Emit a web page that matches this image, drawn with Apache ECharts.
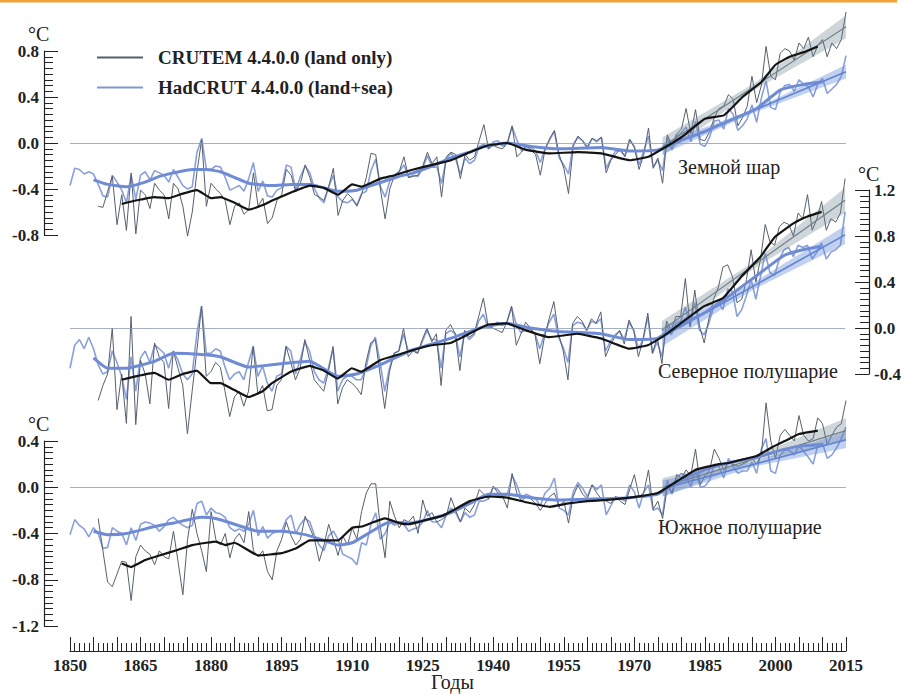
<!DOCTYPE html>
<html><head><meta charset="utf-8">
<script src="https://cdn.jsdelivr.net/npm/echarts@6/dist/echarts.min.js"></script>
<style>html,body{margin:0;padding:0;background:#fff}#c{width:904px;height:695px}</style>
</head><body><div id="c"></div>
<script>
// ---------- data (anomalies, °C) ----------
const hadStart = 1850;   // HadCRUT annual series start year
const cruStart = 1856;   // CRUTEM annual series start year

// Global (Земной шар)
const hadG = [
 -0.37,-0.22,-0.23,-0.27,-0.25,-0.27,-0.36,-0.46,-0.47,-0.28,
 -0.34,-0.41,-0.52,-0.28,-0.49,-0.28,-0.25,-0.32,-0.24,-0.26,
 -0.28,-0.34,-0.23,-0.30,-0.37,-0.40,-0.38,-0.08,0.04,-0.23,
 -0.23,-0.20,-0.21,-0.30,-0.41,-0.39,-0.37,-0.42,-0.31,-0.17,
 -0.42,-0.33,-0.46,-0.47,-0.41,-0.39,-0.19,-0.21,-0.41,-0.29,
 -0.20,-0.26,-0.40,-0.48,-0.52,-0.38,-0.28,-0.47,-0.51,-0.52,
 -0.49,-0.54,-0.44,-0.42,-0.24,-0.14,-0.38,-0.47,-0.33,-0.28,
 -0.25,-0.19,-0.30,-0.28,-0.29,-0.22,-0.11,-0.21,-0.21,-0.35,
 -0.14,-0.09,-0.14,-0.27,-0.13,-0.18,-0.15,-0.03,-0.01,-0.05,
 0.01,0.02,-0.03,0.00,0.14,0.03,-0.07,-0.04,-0.04,-0.07,
 -0.17,-0.05,0.03,0.10,-0.13,-0.19,-0.27,-0.01,0.05,0.02,
 -0.05,0.04,0.01,0.05,-0.22,-0.14,-0.07,-0.07,-0.11,0.03,
 -0.03,-0.19,-0.07,0.06,-0.21,-0.15,-0.24,0.05,-0.06,0.06,
 0.09,0.14,0.01,0.19,-0.01,-0.03,0.05,0.19,0.20,0.12,
 0.30,0.25,0.11,0.15,0.21,0.33,0.18,0.39,0.54,0.31,
 0.29,0.44,0.50,0.51,0.45,0.55,0.51,0.49,0.40,0.51,
 0.56,0.43,0.47,0.51,0.58,0.76
];
const cruG = [
 -0.55,-0.56,-0.42,-0.29,
 -0.71,-0.45,-0.76,-0.26,-0.79,-0.41,-0.45,-0.57,-0.35,-0.41,
 -0.45,-0.66,-0.35,-0.40,-0.55,-0.81,-0.60,-0.25,0.03,-0.55,
 -0.35,-0.40,-0.44,-0.50,-0.71,-0.55,-0.52,-0.62,-0.58,-0.26,
 -0.55,-0.48,-0.70,-0.65,-0.50,-0.45,-0.23,-0.28,-0.42,-0.35,
 -0.19,-0.30,-0.45,-0.47,-0.50,-0.38,-0.22,-0.63,-0.50,-0.44,
 -0.48,-0.55,-0.45,-0.30,-0.09,-0.10,-0.40,-0.66,-0.40,-0.28,
 -0.25,-0.12,-0.30,-0.29,-0.28,-0.20,-0.08,-0.18,-0.12,-0.47,
 -0.12,-0.08,-0.10,-0.31,-0.10,-0.15,-0.12,0.02,0.16,-0.05,
 -0.02,-0.04,-0.05,0.00,0.15,-0.12,-0.08,-0.02,-0.06,-0.10,
 -0.28,-0.06,0.04,0.11,-0.10,-0.22,-0.44,-0.03,0.06,0.02,
 -0.03,0.04,0.02,0.05,-0.26,-0.15,-0.10,-0.05,-0.12,0.03,
 -0.04,-0.23,-0.10,0.13,-0.22,-0.13,-0.35,0.07,-0.02,0.08,
 0.12,0.30,0.08,0.29,0.03,0.02,0.10,0.22,0.30,0.32,
 0.42,0.38,0.15,0.22,0.32,0.58,0.35,0.50,0.84,0.58,
 0.55,0.78,0.82,0.80,0.72,0.87,0.82,0.92,0.75,0.85,
 0.90,0.75,0.87,0.82,0.90,1.14
];
const cruGsm = [[1861,-0.53],[1864,-0.50],[1868,-0.47],[1871,-0.48],[1874,-0.44],[1877,-0.41],[1880,-0.48],[1882,-0.47],[1885,-0.52],[1888,-0.58],[1891,-0.54],[1893,-0.50],[1897,-0.43],[1901,-0.37],[1904,-0.39],[1907,-0.45],[1910,-0.36],[1912,-0.38],[1916,-0.31],[1919,-0.28],[1923,-0.23],[1927,-0.19],[1931,-0.15],[1935,-0.08],[1939,-0.02],[1943,0.00],[1947,-0.06],[1952,-0.09],[1958,-0.08],[1963,-0.09],[1969,-0.15],[1973,-0.12],[1976,-0.05],[1980,0.05],[1985,0.21],[1989,0.24],[1993,0.40],[1997,0.53],[2000,0.68],[2003,0.75],[2006,0.79],[2009,0.84]];
const hadGsm = [[1855,-0.32],[1858,-0.36],[1862,-0.38],[1866,-0.34],[1869,-0.29],[1872,-0.26],[1876,-0.23],[1879,-0.23],[1882,-0.25],[1885,-0.30],[1888,-0.35],[1893,-0.37],[1897,-0.36],[1901,-0.36],[1904,-0.39],[1907,-0.42],[1911,-0.41],[1914,-0.37],[1917,-0.33],[1920,-0.29],[1923,-0.26],[1927,-0.20],[1931,-0.13],[1935,-0.08],[1938,-0.03],[1943,0.00],[1948,-0.03],[1954,-0.05],[1963,-0.04],[1969,-0.07],[1975,-0.06],[1979,0.01],[1985,0.10],[1990,0.19],[1996,0.30],[2001,0.46],[2006,0.51],[2010,0.53]];
const trendCruG = [[1976,-0.03],[2015,1.01]];
const trendHadG = [[1976,-0.05],[2015,0.62]];
const bandCruG = [[1976,-0.11,0.05],[1995.5,0.46,0.52],[2015,0.91,1.11]];
const bandHadG = [[1976,-0.10,0.00],[1995.5,0.265,0.295],[2015,0.56,0.68]];

// Northern hemisphere (Северное полушарие)
const hadN = [
 -0.35,-0.15,-0.10,-0.18,-0.08,-0.18,-0.32,-0.40,-0.38,-0.20,
 -0.30,-0.42,-0.62,-0.25,-0.55,-0.26,-0.20,-0.30,-0.15,-0.18,
 -0.22,-0.35,-0.20,-0.28,-0.40,-0.45,-0.40,-0.05,0.19,-0.22,
 -0.22,-0.18,-0.20,-0.34,-0.45,-0.40,-0.38,-0.45,-0.30,-0.16,
 -0.42,-0.33,-0.48,-0.55,-0.42,-0.40,-0.16,-0.20,-0.40,-0.28,
 -0.12,-0.20,-0.38,-0.45,-0.48,-0.35,-0.18,-0.55,-0.45,-0.42,
 -0.42,-0.45,-0.45,-0.35,-0.16,-0.08,-0.30,-0.55,-0.35,-0.22,
 -0.20,-0.05,-0.20,-0.18,-0.22,-0.12,-0.02,-0.10,-0.10,-0.35,
 -0.05,-0.02,-0.05,-0.25,-0.05,-0.10,-0.06,0.06,0.12,0.00,
 0.02,0.05,0.02,0.05,0.18,0.03,-0.04,-0.02,-0.01,-0.05,
 -0.18,-0.05,0.05,0.12,-0.08,-0.17,-0.30,0.02,0.05,0.04,
 -0.02,0.06,0.04,0.08,-0.20,-0.12,-0.06,-0.03,-0.10,0.05,
 -0.02,-0.18,-0.10,0.10,-0.22,-0.12,-0.25,0.03,-0.06,0.04,
 0.06,0.18,0.02,0.22,-0.02,-0.06,0.04,0.18,0.22,0.16,
 0.34,0.32,0.10,0.16,0.28,0.42,0.25,0.45,0.65,0.48,
 0.46,0.60,0.68,0.70,0.62,0.72,0.70,0.72,0.60,0.66,
 0.74,0.60,0.66,0.68,0.72,1.01
];
const cruN = [
 -0.63,-0.50,-0.40,0.00,
 -0.71,-0.40,-0.83,0.10,-0.84,-0.28,-0.40,-0.66,-0.13,-0.25,
 -0.30,-0.70,-0.20,-0.35,-0.50,-0.92,-0.55,-0.20,0.19,-0.42,
 -0.38,-0.30,-0.34,-0.55,-0.77,-0.60,-0.55,-0.68,-0.55,-0.16,
 -0.58,-0.50,-0.72,-0.71,-0.50,-0.45,-0.16,-0.30,-0.45,-0.35,
 -0.10,-0.28,-0.45,-0.50,-0.55,-0.38,-0.16,-0.66,-0.52,-0.45,
 -0.48,-0.52,-0.58,-0.30,-0.13,-0.10,-0.40,-0.70,-0.38,-0.22,
 -0.20,0.00,-0.25,-0.20,-0.22,-0.10,0.00,-0.12,-0.05,-0.50,
 -0.02,0.03,-0.05,-0.37,-0.02,-0.08,-0.05,0.10,0.26,0.02,
 0.00,-0.02,-0.04,0.05,0.19,-0.15,-0.05,0.05,0.00,-0.06,
 -0.31,-0.08,0.08,0.23,-0.05,-0.20,-0.45,0.04,0.10,0.06,
 -0.02,0.08,0.04,0.14,-0.25,-0.15,-0.08,-0.02,-0.14,0.07,
 -0.02,-0.25,-0.10,0.13,-0.22,-0.08,-0.31,0.06,-0.02,0.10,
 0.10,0.43,0.01,0.33,0.02,-0.13,0.08,0.25,0.35,0.53,
 0.55,0.45,0.22,0.25,0.42,0.68,0.40,0.60,0.90,0.75,
 0.72,0.88,0.92,0.90,0.80,1.00,0.95,1.16,0.85,0.95,
 1.10,0.85,0.95,0.92,1.00,1.30
];
const cruNsm = [[1861,-0.45],[1864,-0.42],[1868,-0.39],[1871,-0.45],[1874,-0.40],[1877,-0.37],[1880,-0.48],[1882,-0.48],[1885,-0.54],[1888,-0.60],[1891,-0.55],[1893,-0.48],[1897,-0.38],[1901,-0.33],[1904,-0.37],[1907,-0.44],[1910,-0.35],[1912,-0.38],[1916,-0.28],[1920,-0.23],[1924,-0.18],[1927,-0.15],[1931,-0.13],[1935,-0.05],[1939,0.03],[1943,0.04],[1947,-0.02],[1952,-0.08],[1958,-0.05],[1963,-0.09],[1969,-0.18],[1973,-0.15],[1976,-0.08],[1980,0.04],[1985,0.19],[1989,0.26],[1993,0.45],[1997,0.62],[2000,0.79],[2004,0.91],[2007,0.97],[2010,1.01]];
const hadNsm = [[1855,-0.26],[1858,-0.35],[1862,-0.35],[1868,-0.29],[1872,-0.22],[1878,-0.23],[1882,-0.25],[1888,-0.34],[1893,-0.32],[1901,-0.29],[1907,-0.42],[1911,-0.40],[1916,-0.32],[1923,-0.19],[1931,-0.09],[1938,0.01],[1943,0.04],[1948,0.00],[1954,-0.03],[1963,-0.05],[1969,-0.10],[1975,-0.09],[1979,0.01],[1985,0.13],[1990,0.27],[1996,0.45],[2002,0.63],[2006,0.68],[2010,0.71]];
const trendCruN = [[1976,-0.02],[2015,1.11]];
const trendHadN = [[1976,-0.08],[2015,0.81]];
const bandCruN = [[1976,-0.10,0.06],[1995.5,0.515,0.575],[2015,1.00,1.22]];
const bandHadN = [[1976,-0.16,0.00],[1995.5,0.335,0.395],[2015,0.73,0.89]];

// Southern hemisphere (Южное полушарие)
const hadS = [
 -0.41,-0.28,-0.33,-0.36,-0.43,-0.35,-0.40,-0.53,-0.52,-0.35,
 -0.38,-0.40,-0.50,-0.35,-0.46,-0.32,-0.30,-0.31,-0.33,-0.38,
 -0.34,-0.28,-0.26,-0.30,-0.33,-0.35,-0.33,-0.14,-0.12,-0.24,
 -0.18,-0.22,-0.23,-0.26,-0.35,-0.38,-0.36,-0.38,-0.32,-0.20,
 -0.42,-0.34,-0.44,-0.40,-0.38,-0.38,-0.28,-0.24,-0.40,-0.32,
 -0.27,-0.30,-0.42,-0.50,-0.55,-0.42,-0.38,-0.45,-0.58,-0.60,
 -0.62,-0.67,-0.48,-0.50,-0.32,-0.22,-0.45,-0.40,-0.30,-0.33,
 -0.30,-0.32,-0.38,-0.36,-0.35,-0.30,-0.20,-0.30,-0.30,-0.35,
 -0.24,-0.18,-0.22,-0.30,-0.22,-0.26,-0.24,-0.12,-0.12,-0.10,
 0.00,-0.02,-0.08,-0.06,0.10,0.02,-0.10,-0.06,-0.08,-0.10,
 -0.16,-0.05,-0.01,0.08,-0.18,-0.20,-0.24,-0.04,0.04,-0.01,
 -0.08,0.02,-0.02,0.02,-0.24,-0.16,-0.08,-0.10,-0.12,0.02,
 -0.04,-0.18,-0.04,0.02,-0.20,-0.18,-0.24,0.06,-0.06,0.08,
 0.12,0.10,0.00,0.16,0.00,0.01,0.06,0.20,0.18,0.08,
 0.25,0.18,0.12,0.14,0.14,0.22,0.12,0.33,0.42,0.14,
 0.12,0.28,0.32,0.32,0.28,0.36,0.31,0.26,0.20,0.36,
 0.38,0.25,0.28,0.34,0.42,0.52
];
const cruS = [
 -0.27,-0.55,-0.82,-0.86,
 -0.75,-0.64,-0.65,-0.98,-0.60,-0.50,-0.55,-0.58,-0.67,-0.55,
 -0.60,-0.62,-0.38,-0.65,-0.93,-0.45,-0.19,-0.40,-0.55,-0.73,
 -0.21,-0.45,-0.50,-0.40,-0.61,-0.45,-0.40,-0.48,-0.21,-0.55,
 -0.60,-0.55,-0.73,-0.80,-0.55,-0.45,-0.30,-0.42,-0.50,-0.45,
 -0.25,-0.35,-0.45,-0.64,-0.50,-0.32,-0.45,-0.59,-0.42,-0.50,
 -0.35,-0.45,-0.21,-0.05,0.03,0.03,-0.35,-0.61,-0.12,-0.25,
 -0.35,-0.28,-0.30,-0.25,-0.40,-0.11,-0.25,-0.22,-0.30,-0.28,
 -0.25,-0.09,-0.20,-0.30,-0.18,-0.22,-0.15,-0.02,-0.06,-0.10,
 0.01,-0.05,-0.08,-0.18,0.12,-0.05,-0.12,-0.08,-0.10,-0.14,
 -0.20,-0.14,-0.08,-0.05,-0.17,-0.12,-0.31,-0.08,0.02,-0.06,
 -0.10,0.02,-0.05,-0.10,-0.12,-0.14,-0.08,-0.12,-0.15,-0.02,
 0.11,-0.08,-0.05,0.15,-0.19,-0.12,-0.27,0.00,-0.05,0.11,
 0.08,0.15,0.10,0.33,0.02,0.10,0.15,0.33,0.25,0.15,
 0.22,0.20,0.18,0.20,0.22,0.25,0.20,0.28,0.73,0.40,
 0.25,0.45,0.50,0.45,0.40,0.62,0.45,0.40,0.42,0.60,
 0.55,0.37,0.45,0.52,0.55,0.75
];
const cruSsm = [[1861,-0.66],[1863,-0.69],[1866,-0.63],[1869,-0.59],[1873,-0.54],[1876,-0.50],[1879,-0.48],[1881,-0.47],[1883,-0.50],[1885,-0.48],[1890,-0.59],[1895,-0.57],[1898,-0.53],[1901,-0.46],[1904,-0.46],[1907,-0.46],[1910,-0.35],[1912,-0.34],[1917,-0.27],[1920,-0.31],[1922,-0.32],[1926,-0.28],[1929,-0.25],[1931,-0.21],[1935,-0.12],[1939,-0.08],[1943,-0.09],[1947,-0.13],[1952,-0.17],[1956,-0.14],[1960,-0.12],[1964,-0.11],[1969,-0.09],[1975,-0.05],[1979,0.05],[1983,0.15],[1988,0.20],[1990,0.21],[1993,0.24],[1996,0.27],[1999,0.34],[2002,0.40],[2005,0.46],[2009,0.49]];
const hadSsm = [[1855,-0.38],[1858,-0.41],[1862,-0.40],[1868,-0.34],[1872,-0.31],[1878,-0.26],[1881,-0.27],[1885,-0.32],[1890,-0.38],[1895,-0.38],[1900,-0.41],[1904,-0.46],[1907,-0.50],[1910,-0.48],[1913,-0.41],[1918,-0.30],[1922,-0.31],[1926,-0.28],[1931,-0.22],[1935,-0.14],[1939,-0.06],[1943,-0.06],[1948,-0.09],[1954,-0.11],[1963,-0.10],[1969,-0.09],[1975,-0.06],[1979,0.04],[1985,0.15],[1990,0.21],[1996,0.26],[2002,0.33],[2006,0.36],[2010,0.37]];
const trendCruS = [[1976,0.00],[2015,0.49]];
const trendHadS = [[1976,-0.01],[2015,0.41]];
const bandCruS = [[1976,-0.08,0.08],[1995.5,0.22,0.27],[2015,0.40,0.60]];
const bandHadS = [[1976,-0.08,0.06],[1995.5,0.18,0.22],[2015,0.34,0.48]];

const yRanges = [[-0.8, 0.8], [-0.4, 1.2], [-1.2, 0.4]];
const panelTitles = ['Земной шар', 'Северное полушарие', 'Южное полушарие'];
const legendNames = ['CRUTEM 4.4.0.0 (land only)', 'HadCRUT 4.4.0.0 (land+sea)'];

// ---------- build ----------
const panels = [
  {cru: cruG, had: hadG, cruSm: cruGsm, hadSm: hadGsm, trC: trendCruG, trH: trendHadG, bC: bandCruG, bH: bandHadG},
  {cru: cruN, had: hadN, cruSm: cruNsm, hadSm: hadNsm, trC: trendCruN, trH: trendHadN, bC: bandCruN, bH: bandHadN},
  {cru: cruS, had: hadS, cruSm: cruSsm, hadSm: hadSsm, trC: trendCruS, trH: trendHadS, bC: bandCruS, bH: bandHadS}
];
const pairs = (start, arr) => arr.map((v, i) => [start + i, v]);

const C_GRAY = '#56606c', C_BLUE = '#7d96d6', C_BLACK = '#141414', C_BLUE_SM = '#6f8bd4';
const serif = '"Liberation Serif", "DejaVu Serif", serif';

const series = [];
panels.forEach((p, gi) => {
  const base = {type: 'line', xAxisIndex: gi, yAxisIndex: gi, showSymbol: false, symbol: 'none', clip: false, silent: true, animation: false};
  series.push(Object.assign({}, base, {
    name: gi === 0 ? legendNames[1] : undefined, z: 2,
    data: pairs(hadStart, p.had), lineStyle: {color: C_BLUE, width: 1.6, opacity: 0.9}, itemStyle: {color: C_BLUE},
    markLine: {silent: true, symbol: 'none', label: {show: false}, animation: false,
      lineStyle: {color: '#8e9cb4', width: 0.8, type: 'solid'}, data: [{yAxis: 0}]}
  }));
  series.push(Object.assign({}, base, {
    name: gi === 0 ? legendNames[0] : undefined, z: 2,
    data: pairs(cruStart, p.cru), lineStyle: {color: C_GRAY, width: 1}, itemStyle: {color: C_GRAY}
  }));
  [[p.bC, 'rgba(105,128,140,0.32)'], [p.bH, 'rgba(95,135,215,0.38)']].forEach(([band, col]) => {
    series.push({
      type: 'custom', xAxisIndex: gi, yAxisIndex: gi, clip: false, silent: true, z: 3, animation: false,
      data: [[band[0][0], band[0][1]]],
      renderItem: (params, api) => {
        const up = band.map(r => api.coord([r[0], r[2]]));
        const lo = band.slice().reverse().map(r => api.coord([r[0], r[1]]));
        return {type: 'polygon', shape: {points: up.concat(lo)}, style: {fill: col}};
      }
    });
  });
  series.push(Object.assign({}, base, {z: 4, data: p.trC, lineStyle: {color: '#6f7f88', width: 1.2}}));
  series.push(Object.assign({}, base, {z: 4, data: p.trH, lineStyle: {color: '#5f84d0', width: 1.6}}));
  series.push(Object.assign({}, base, {z: 5, smooth: 0.15, data: p.hadSm, lineStyle: {color: C_BLUE_SM, width: 3}}));
  series.push(Object.assign({}, base, {z: 6, smooth: 0.1, data: p.cruSm, lineStyle: {color: C_BLACK, width: 2.2}}));
});

const grids = [
  {left: 70, right: 58, top: 51, height: 184},
  {left: 70, right: 58, top: 190, height: 184},
  {left: 70, right: 58, top: 441, height: 185}
];

const xAxes = [0, 1, 2].map(gi => gi < 2 ? {type: 'value', gridIndex: gi, min: 1850, max: 2015, show: false} : {
  type: 'value', gridIndex: gi, min: 1850, max: 2015, interval: 5, offset: 25,
  axisLine: {show: true, onZero: false, lineStyle: {color: '#222', width: 1.2}},
  axisTick: {show: true, inside: true, length: 14, lineStyle: {color: '#222', width: 1}},
  minorTick: {show: true, splitNumber: 5, length: 8, lineStyle: {color: '#222', width: 1}},
  splitLine: {show: false},
  axisLabel: {showMinLabel: true, showMaxLabel: true, margin: 6, color: '#222',
    fontFamily: serif, fontWeight: 'bold', fontSize: 17,
    formatter: v => ((Math.round(v) - 1850) % 15 === 0 ? String(Math.round(v)) : '')}
});

const yAxes = [0, 1, 2].map(gi => ({
  type: 'value', gridIndex: gi, min: yRanges[gi][0], max: yRanges[gi][1], interval: 0.4,
  position: gi === 1 ? 'right' : 'left', offset: gi === 1 ? 24 : 26,
  axisLine: {show: true, onZero: false, lineStyle: {color: '#222', width: 1.2}},
  axisTick: {show: true, inside: true, length: 14, lineStyle: {color: '#222', width: 1}},
  minorTick: {show: true, splitNumber: 8, length: 9, lineStyle: {color: '#222', width: 1}},
  splitLine: {show: false},
  axisLabel: {margin: 5, color: '#222', fontFamily: serif, fontWeight: 'bold', fontSize: 17,
    formatter: v => v.toFixed(1)}
}));

const titleStyle = {fontFamily: serif, fontWeight: 'normal', fontSize: 20, color: '#222'};
const titles = [
  {text: panelTitles[0], left: 678, top: 157, padding: 0, textStyle: titleStyle},
  {text: panelTitles[1], left: 658, top: 361, padding: 0, textStyle: titleStyle},
  {text: panelTitles[2], left: 658, top: 517, padding: 0, textStyle: titleStyle},
  {text: 'Годы', left: 431, top: 672, padding: 0, textStyle: titleStyle}
];

const chart = echarts.init(document.getElementById('c'), null, {renderer: 'svg'});
chart.setOption({
  backgroundColor: '#fff',
  animation: false,
  title: titles,
  grid: grids,
  xAxis: xAxes,
  yAxis: yAxes,
  legend: {
    data: legendNames, orient: 'vertical', left: 97, top: 48, padding: 0,
    icon: 'rect', itemWidth: 46, itemHeight: 2, itemGap: 11, selectedMode: false,
    textStyle: {fontFamily: serif, fontWeight: 'bold', fontSize: 19, color: '#222', padding: [0, 0, 0, 10]}
  },
  graphic: [
    {type: 'rect', left: 0, top: 0, shape: {width: 897, height: 2.5}, style: {fill: '#f0a338'}, silent: true},
    {type: 'text', left: 28, top: 24, style: {text: '°C', font: '20px ' + serif, fill: '#222'}},
    {type: 'text', left: 858, top: 164, style: {text: '°C', font: '20px ' + serif, fill: '#222'}},
    {type: 'text', left: 28, top: 414, style: {text: '°C', font: '20px ' + serif, fill: '#222'}}
  ],
  series: series
});
</script>
</body></html>
